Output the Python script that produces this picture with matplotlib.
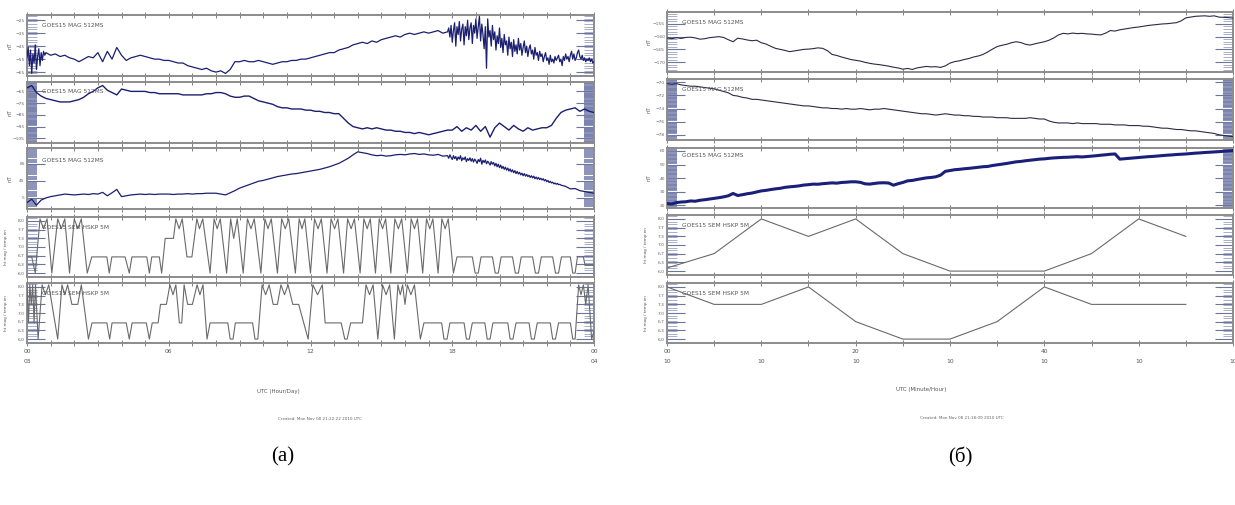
import numpy as np
import matplotlib.pyplot as plt
from matplotlib.ticker import MultipleLocator, FixedLocator

# ---------------- (a) GOES15 MAG 512MS, day 03 -> 04 (nT)
# panel 1: 0-0.75 h every 0.05 h, 0.8-17.8 h every 0.2 h, 17.8-24 h every 0.05 h
mag_a1_start = [-54, -46, -60, -48, -66, -51, -58, -44, -63, -53, -47, -60, -50, -56, -49, -52]
mag_a1_main = [-50, -52, -51, -53, -52, -54,
               -55, -57, -55, -53, -54, -50, -57, -49, -55, -46,
               -52, -56, -54, -53, -52, -53, -54, -55, -55, -56,
               -56, -57, -58, -58, -60, -61, -62, -63, -62, -64,
               -65, -64, -66, -63, -57, -57, -56, -57, -57, -56,
               -57, -58, -59, -58, -57, -57, -56, -56, -55, -55,
               -54, -53, -52, -51, -50, -50, -48, -47, -46, -44,
               -43, -42, -43, -41, -42, -40, -39, -38, -37, -38,
               -36, -35, -36, -35, -34, -35, -34, -33, -35, -34]
mag_a1_storm = [-34, -31, -38, -29, -42, -33, -27, -45, -30, -36, -26, -41, -32, -28, -44, -30, -37, -25, -40, -31,
                -27, -43, -29, -35, -24, -39, -30, -22, -41, -28, -36, -47, -30, -62, -24, -38, -33, -45, -29, -40,
                -34, -48, -37, -43, -31, -46, -39, -50, -36, -44, -41, -52, -38, -47, -42, -53, -40, -49, -44, -51,
                -39, -48, -43, -52, -46, -41, -50, -45, -53, -47, -44, -51, -48, -55, -46, -52, -50, -56, -49, -53,
                -51, -57, -53, -50, -56, -54, -59, -52, -57, -55, -58, -53, -56, -54, -52, -57, -55, -60, -53, -56,
                -51, -55, -53, -57, -52, -49, -55, -51, -56, -54, -50, -48, -53, -55, -52, -56, -54, -57, -55, -56,
                -54, -57, -55, -58, -57]
# panel 2: one value every 0.2 h
mag_a2 = [-62, -60, -66, -69, -71, -72, -73, -74, -74, -74,
          -73, -72, -70, -67, -65, -62, -60, -64, -66, -68,
          -63, -64, -65, -65, -65, -65, -66, -66, -67, -67,
          -67, -67, -67, -68, -68, -68, -68, -68, -67, -67,
          -66, -66, -67, -69, -70, -70, -69, -69, -71, -73,
          -74, -75, -76, -78, -79, -79, -80, -80, -80, -81,
          -81, -82, -82, -83, -83, -84, -84, -88, -92, -95,
          -96, -97, -96, -97, -96, -97, -98, -98, -99, -99,
          -100, -100, -101, -100, -101, -102, -101, -100, -99, -98,
          -98, -95, -99, -96, -98, -94, -99, -95, -104, -96,
          -92, -95, -98, -94, -97, -99, -96, -98, -97, -96,
          -96, -94, -88, -83, -81, -80, -79, -82, -80, -82,
          -83]
# panel 3: 0-17.8 h every 0.2 h, 17.8-22.55 h every 0.05 h, 22.6-24 h every 0.2 h
mag_a3_main = [-6, 2, -12, 0, 5, 8, 10, 12, 14, 13,
               12, 13, 14, 13, 15, 14, 18, 10, 17, 25,
               8, 10, 12, 13, 14, 13, 14, 13, 14, 14,
               14, 13, 14, 14, 15, 14, 15, 15, 16, 16,
               16, 14, 12, 17, 22, 28, 32, 36, 40, 44,
               46, 49, 52, 55, 57, 59, 61, 62, 64, 66,
               68, 70, 72, 75, 78, 82, 86, 92, 98, 106,
               113, 111, 109, 106, 104, 105, 103, 104, 106, 107,
               106, 108, 109, 107, 108, 106, 105, 107, 103, 104]
mag_a3_storm = [104, 98, 106, 100, 95, 104, 97, 102, 93, 101, 96, 104, 92, 99, 95, 101, 90, 97, 93, 99,
                91, 97, 89, 96, 92, 86, 95, 90, 98, 84, 93, 88, 94, 85, 91, 87, 82, 90, 84, 88,
                80, 86, 78, 84, 76, 82, 74, 79, 72, 77, 70, 75, 68, 73, 66, 71, 64, 69, 62, 67,
                61, 65, 59, 63, 57, 62, 56, 60, 55, 58, 53, 57, 52, 56, 50, 54, 49, 53, 48, 51,
                47, 50, 45, 48, 43, 46, 41, 44, 40, 42, 38, 40, 37, 39, 36, 37]
mag_a3_tail = [35, 32, 26, 27, 22, 20, 18, 16]

# ---------------- (б) GOES15 MAG 512MS, hour 10 -> 11, one value every 0.5 min
mag_b1 = [-160.5, -160.8, -160.4, -160.7, -160.3, -160.2, -160.5, -161.0, -160.8, -160.4,
          -160.2, -160.0, -160.3, -161.2, -162.0, -160.6, -160.9, -161.3, -161.6, -161.4,
          -162.4, -162.9, -163.8, -164.6, -165.0, -165.4, -165.9, -165.6, -165.3, -165.0,
          -164.9, -164.7, -164.4, -164.6, -165.5, -167.0, -167.4, -168.0, -168.5, -169.0,
          -169.3, -169.6, -170.1, -170.5, -170.8, -171.0, -171.3, -171.6, -172.0, -172.3,
          -172.8, -172.5, -172.9, -172.3, -172.0, -171.7, -171.9, -171.8, -172.1, -171.5,
          -170.4, -169.8, -169.5, -169.0, -168.6, -168.0, -167.6, -167.0, -166.0, -164.9,
          -163.9, -163.4, -163.0, -162.4, -162.0, -162.3, -163.0, -163.3, -162.8, -162.4,
          -162.0, -161.4, -160.5, -159.3, -158.7, -158.9, -158.6, -158.8, -158.7, -158.9,
          -159.0, -159.2, -159.3, -158.6, -157.6, -157.8, -157.3, -157.0, -156.7, -156.4,
          -156.2, -155.9, -155.6, -155.4, -155.2, -155.0, -154.9, -154.7, -154.5, -153.8,
          -152.6, -152.3, -152.0, -151.9, -151.8, -152.0, -151.8, -152.3, -152.4, -152.5,
          -152.7]
mag_b2 = [-70.2, -70.3, -70.2, -70.4, -70.5, -70.6, -70.6, -70.7, -70.8, -70.9,
          -71.0, -71.2, -71.4, -71.6, -72.0, -72.1, -72.3, -72.4, -72.6, -72.6,
          -72.7, -72.8, -72.9, -73.0, -73.1, -73.2, -73.3, -73.4, -73.5, -73.6,
          -73.6, -73.7, -73.8, -73.9, -73.9, -74.0, -74.0, -74.1, -74.0, -74.1,
          -74.1, -74.0, -74.1, -74.2, -74.1, -74.1, -74.0, -74.1, -74.2, -74.3,
          -74.4, -74.5, -74.6, -74.7, -74.8, -74.8, -74.9, -75.0, -74.9, -74.8,
          -74.9, -75.0, -75.0, -75.1, -75.1, -75.2, -75.2, -75.3, -75.3, -75.3,
          -75.4, -75.4, -75.4, -75.5, -75.5, -75.5, -75.5, -75.4, -75.5, -75.6,
          -75.6, -75.9, -76.1, -76.2, -76.2, -76.2, -76.3, -76.2, -76.3, -76.3,
          -76.3, -76.3, -76.4, -76.4, -76.4, -76.5, -76.5, -76.5, -76.6, -76.6,
          -76.6, -76.7, -76.7, -76.8, -76.9, -77.0, -77.0, -77.1, -77.2, -77.2,
          -77.3, -77.4, -77.4, -77.5, -77.6, -77.7, -77.8, -78.0, -78.1, -78.2,
          -78.3]
mag_b3 = [21.3, 21.0, 22.0, 22.4, 22.6, 23.2, 23.0, 23.7, 24.1, 24.6,
          25.1, 25.6, 26.2, 27.0, 28.7, 27.2, 27.8, 28.5, 29.0, 29.8,
          30.6, 31.0, 31.6, 32.1, 32.5, 33.2, 33.6, 33.9, 34.3, 34.9,
          35.2, 35.6, 35.5, 35.9, 36.2, 36.5, 36.3, 36.8, 37.0, 37.3,
          37.3, 36.9, 35.8, 35.6, 36.1, 36.5, 36.6, 36.4, 34.8, 35.9,
          36.8, 38.0, 38.3, 39.0, 39.6, 40.2, 40.5, 41.0, 42.2, 45.0,
          45.6, 46.2, 46.5, 46.9, 47.2, 47.6, 48.0, 48.4, 48.6, 49.3,
          49.8, 50.3, 50.8, 51.4, 52.0, 52.3, 52.8, 53.2, 53.6, 54.0,
          54.2, 54.6, 54.9, 55.1, 55.3, 55.4, 55.6, 55.8, 55.6, 55.9,
          56.2, 56.5, 56.9, 57.2, 57.6, 57.8, 54.0, 54.3, 54.6, 54.9,
          55.2, 55.5, 55.8, 56.0, 56.3, 56.6, 56.9, 57.1, 57.4, 57.6,
          57.8, 58.1, 58.4, 58.6, 58.9, 59.1, 59.3, 59.5, 59.8, 60.0,
          60.2]

# ---------------- GOES15 SEM HSKP 5M (levels)
T, D, P, L, B = 8.08, 7.7, 7.33, 6.62, 6.0

hsk_a4_t = [0.0, 0.2, 0.35, 0.55, 0.7, 0.85, 1.05, 1.3, 1.45, 1.6,
            1.8, 2.0, 2.15, 2.3, 2.55, 2.74, 3.38, 3.48, 3.59, 4.15,
            4.33, 4.44, 5.07, 5.18, 5.28, 5.6, 5.7, 5.85, 6.2, 6.3,
            6.44, 6.57, 6.77, 6.98, 7.19, 7.3, 7.44, 7.75, 7.92, 8.05,
            8.18, 8.45, 8.62, 8.75, 8.9, 9.15, 9.33, 9.48, 9.62, 9.9,
            10.07, 10.2, 10.34, 10.6, 10.78, 10.93, 11.08, 11.36, 11.52, 11.64,
            11.76, 12.0, 12.17, 12.32, 12.46, 12.7, 12.87, 13.02, 13.16, 13.4,
            13.57, 13.72, 13.86, 14.1, 14.26, 14.4, 14.53, 14.75, 14.91, 15.05,
            15.18, 15.4, 15.57, 15.72, 15.86, 16.1, 16.26, 16.4, 16.53, 16.75,
            16.91, 17.05, 17.18, 17.4, 17.56, 17.7, 17.83, 18.05, 18.2, 18.85,
            18.97, 19.1, 19.22, 19.7, 19.82, 19.95, 20.07, 20.55, 20.67, 20.8,
            20.92, 21.4, 21.52, 21.65, 21.77, 22.25, 22.37, 22.5, 22.62, 23.0,
            23.1, 23.2, 23.3, 23.55, 23.62, 24.0]
hsk_a4_v = [L, L, B, T, D, T, B, T, D, T,
            B, T, D, T, B, L, L, B, L, L,
            B, L, L, B, L, L, B, P, P, T,
            D, T, L, L, T, D, T, B, T, D,
            T, B, T, P, T, B, T, D, T, B,
            T, D, T, B, T, D, T, B, T, D,
            T, B, T, D, T, B, T, D, T, B,
            T, D, T, B, T, D, T, B, T, D,
            T, B, T, D, T, B, T, D, T, B,
            T, D, T, B, T, D, T, B, L, L,
            B, B, L, L, B, B, L, L, B, B,
            L, L, B, B, L, L, B, B, L, L,
            B, B, L, L, 6.3, 6.3]

hsk_a5_t = [0.0, 0.06, 0.12, 0.18, 0.24, 0.3, 0.36, 0.47, 0.64, 0.78,
            0.92, 1.3, 1.48, 1.6, 1.72, 1.9, 2.15, 2.3, 2.6, 2.75,
            3.38, 3.5, 3.6, 4.2, 4.33, 4.45, 5.05, 5.18, 5.3, 5.55,
            5.65, 5.9, 6.05, 6.18, 6.3, 6.45, 6.55, 6.65, 6.8, 7.0,
            7.2, 7.32, 7.45, 7.62, 7.75, 8.5, 8.6, 8.72, 8.82, 9.55,
            9.65, 9.77, 9.95, 10.1, 10.25, 10.42, 10.6, 10.75, 10.9, 11.05,
            11.25, 11.5, 11.9, 12.1, 12.3, 12.5, 12.62, 13.3, 13.45, 13.55,
            13.7, 14.2, 14.35, 14.5, 14.65, 14.85, 15.05, 15.2, 15.35, 15.55,
            15.7, 15.8, 15.9, 16.0, 16.1, 16.25, 16.4, 16.65, 16.8, 17.55,
            17.65, 17.78, 17.9, 18.5, 18.6, 18.72, 18.85, 19.38, 19.48, 19.6,
            19.72, 20.35, 20.45, 20.57, 20.7, 21.25, 21.35, 21.47, 21.6, 22.15,
            22.25, 22.37, 22.5, 23.0, 23.1, 23.2, 23.35, 23.45, 23.55, 23.65,
            23.75, 23.9, 24.0]
hsk_a5_v = [T, L, T, P, T, L, T, B, T, D,
            T, B, T, D, T, P, P, T, B, L,
            L, B, L, L, B, L, L, B, L, L,
            P, P, T, D, T, L, L, T, P, P,
            T, D, T, B, L, L, B, B, L, L,
            B, B, T, D, T, P, P, T, D, T,
            P, P, B, T, D, T, L, L, B, B,
            L, L, T, D, T, B, T, D, T, B,
            T, D, T, P, T, D, T, B, L, L,
            B, B, L, L, B, B, L, L, B, B,
            L, L, B, B, L, L, B, B, L, L,
            B, B, L, L, B, B, T, D, T, P,
            T, B, 6.3]

hsk_b_min = [0, 5, 10, 15, 20, 25, 30, 35, 40, 45, 50, 55]
hsk_b4 = [6.12, 6.67, 8.0, 7.33, 8.0, 6.67, 6.0, 6.0, 6.0, 6.67, 8.0, 7.33]
hsk_b5 = [8.0, 7.33, 7.33, 8.0, 6.67, 6.0, 6.0, 6.67, 8.0, 7.33, 7.33, 7.33]

# ---------------- axis texts
day_ticks = [0, 6, 12, 18, 24]
day_labels = ['00\n03', '06', '12', '18', '00\n04']
min_ticks = [0, 10, 20, 30, 40, 50, 60]
min_labels = ['00\n10', '\n10', '20\n10', '\n10', '40\n10', '\n10', '\n10']
hsk_ticks = [6.0, 6.33, 6.67, 7.0, 7.33, 7.67, 8.0]
hsk_labels = ['6.0', '6.3', '6.7', '7.0', '7.3', '7.7', '8.0']
mag_title = 'GOES15 MAG 512MS'
sem_title = 'GOES15 SEM HSKP 5M'

W, H = 1235, 505
fig = plt.figure(figsize=(W / 100, H / 100), dpi=100)


def panel(x0, x1, y0, y1):
    return fig.add_axes([x0 / W, 1 - y1 / H, (x1 - x0) / W, (y1 - y0) / H])


def frame(ax, xmax, xmaj, xmin, ymaj, ylim, ystep, dense):
    ax.set_xlim(0, xmax)
    ax.set_ylim(*ylim)
    for s in ax.spines.values():
        s.set_color('#8c8c8c')
        s.set_linewidth(1.4)
    ax.xaxis.set_major_locator(FixedLocator(xmaj))
    ax.xaxis.set_minor_locator(MultipleLocator(xmin))
    ax.tick_params(axis='x', which='both', direction='inout', length=5, width=0.7,
                   color='#808080', top=True, bottom=True, labelbottom=False,
                   labelsize=4.3, labelcolor='#555555', pad=2)
    ax.yaxis.set_major_locator(FixedLocator(ymaj))
    ax.yaxis.set_minor_locator(MultipleLocator(ystep))
    ax.tick_params(axis='y', which='major', direction='in', left=True, right=True,
                   length=13, width=0.8, color='#6c7498', labelsize=3.2,
                   labelcolor='#666666', pad=1.5)
    ax.tick_params(axis='y', which='minor', direction='in', left=True, right=True,
                   length=7, width=1.2 if dense else 0.6,
                   color='#7880ad' if dense else '#9aa0c4')


def tag(ax, text, y):
    ax.text(0.027, y, text, transform=ax.transAxes, fontsize=4.2,
            color='#555555', va='center', ha='left')


def ylab(ax, text, size, x):
    ax.set_ylabel(text, fontsize=size, color='#555555')
    ax.yaxis.set_label_coords(x, 0.5)


# sample times of the magnetometer series
a1_h = np.concatenate([np.linspace(0, 0.75, len(mag_a1_start)),
                       np.linspace(0.8, 17.8, len(mag_a1_main)),
                       np.linspace(17.85, 24, len(mag_a1_storm) - 1)])
a1_v = mag_a1_start + mag_a1_main + mag_a1_storm[1:]
a2_h = np.linspace(0, 24, len(mag_a2))
a3_h = np.concatenate([np.linspace(0, 17.8, len(mag_a3_main)),
                       np.linspace(17.85, 22.55, len(mag_a3_storm) - 1),
                       np.linspace(22.6, 24, len(mag_a3_tail))])
a3_v = mag_a3_main + mag_a3_storm[1:] + mag_a3_tail
min_m = np.linspace(0, 60, len(mag_b1))

mag_col = '#1b1f70'
sem_col = '#6a6a6a'

# ---------- left chart (a)
ax = panel(27, 594, 15, 76)
frame(ax, 24, day_ticks, 1, [-65, -55, -45, -35, -25], (-68, -21), 2, False)
ax.plot(a1_h, a1_v, color=mag_col, lw=0.9, zorder=3)
tag(ax, mag_title, 0.82)
ylab(ax, 'nT', 4, -0.026)

ax = panel(27, 594, 82, 143)
frame(ax, 24, day_ticks, 1, [-105, -95, -85, -75, -65], (-109, -57), 1, True)
ax.plot(a2_h, mag_a2, color=mag_col, lw=1.0, zorder=3)
tag(ax, mag_title, 0.85)
ylab(ax, 'nT', 4, -0.026)

ax = panel(27, 594, 148, 209)
frame(ax, 24, day_ticks, 1, [5, 45, 85], (-21, 122), 5, True)
ax.plot(a3_h, a3_v, color=mag_col, lw=0.9, zorder=3)
tag(ax, mag_title, 0.80)
ylab(ax, 'nT', 4, -0.026)

ax = panel(27, 594, 217, 277)
frame(ax, 24, day_ticks, 1, hsk_ticks, (5.85, 8.15), 0.1, False)
ax.set_yticklabels(hsk_labels)
ax.plot(hsk_a4_t, hsk_a4_v, color=sem_col, lw=0.8, zorder=3)
tag(ax, sem_title, 0.83)
ylab(ax, 'ht mag / temp en', 3, -0.033)

ax = panel(27, 594, 283, 343)
frame(ax, 24, day_ticks, 1, hsk_ticks, (5.85, 8.15), 0.1, False)
ax.set_yticklabels(hsk_labels)
ax.plot(hsk_a5_t, hsk_a5_v, color=sem_col, lw=0.8, zorder=3)
tag(ax, sem_title, 0.83)
ylab(ax, 'ht mag / temp en', 3, -0.033)
ax.set_xticklabels(day_labels, linespacing=2.2, va='top')
ax.tick_params(axis='x', labelbottom=True)

# ---------- right chart (б)
ax = panel(667, 1233, 12, 72)
frame(ax, 60, min_ticks, 5, [-170, -165, -160, -155], (-173.9, -150.3), 1, False)
ax.plot(min_m, mag_b1, color='#2b2b48', lw=0.8, zorder=3)
tag(ax, mag_title, 0.82)
ylab(ax, 'nT', 4, -0.027)

ax = panel(667, 1233, 79, 140)
frame(ax, 60, min_ticks, 5, [-78, -76, -74, -72, -70], (-78.8, -69.5), 0.2, True)
ax.plot(min_m, mag_b2, color='#2b2b48', lw=0.8, zorder=3)
tag(ax, mag_title, 0.82)
ylab(ax, 'nT', 4, -0.027)

ax = panel(667, 1233, 148, 208)
frame(ax, 60, min_ticks, 5, [20, 30, 40, 50, 60], (18, 62.2), 1, True)
ax.plot(min_m, mag_b3, color='#1a1f7a', lw=2.2, zorder=3)
tag(ax, mag_title, 0.87)
ylab(ax, 'nT', 4, -0.027)

ax = panel(667, 1233, 215, 275)
frame(ax, 60, min_ticks, 5, hsk_ticks, (5.85, 8.15), 0.1, False)
ax.set_yticklabels(hsk_labels)
ax.plot(hsk_b_min, hsk_b4, color=sem_col, lw=0.8, zorder=3)
tag(ax, sem_title, 0.83)
ylab(ax, 'ht mag / temp en', 3, -0.034)

ax = panel(667, 1233, 283, 343)
frame(ax, 60, min_ticks, 5, hsk_ticks, (5.85, 8.15), 0.1, False)
ax.set_yticklabels(hsk_labels)
ax.plot(hsk_b_min, hsk_b5, color=sem_col, lw=0.8, zorder=3)
tag(ax, sem_title, 0.83)
ylab(ax, 'ht mag / temp en', 3, -0.034)
ax.set_xticklabels(min_labels, linespacing=2.2, va='top')
ax.tick_params(axis='x', labelbottom=True)

# ---------- captions
fig.text(278 / W, 1 - 391 / H, 'UTC (Hour/Day)', fontsize=4, color='#555555',
         ha='center', va='center')
fig.text(320 / W, 1 - 419 / H, 'Created: Mon Nov 08 21:22:22 2010 UTC', fontsize=3,
         color='#666666', ha='center', va='center')
fig.text(921 / W, 1 - 390 / H, 'UTC (Minute/Hour)', fontsize=4, color='#555555',
         ha='center', va='center')
fig.text(962 / W, 1 - 418 / H, 'Created: Mon Nov 08 21:18:09 2010 UTC', fontsize=3,
         color='#666666', ha='center', va='center')
fig.text(283 / W, 1 - 457 / H, '(а)', fontsize=15, family='Liberation Serif',
         ha='center', va='center')
fig.text(960 / W, 1 - 457 / H, '(б)', fontsize=15, family='Liberation Serif',
         ha='center', va='center')

fig.savefig('out.png', dpi=100)
